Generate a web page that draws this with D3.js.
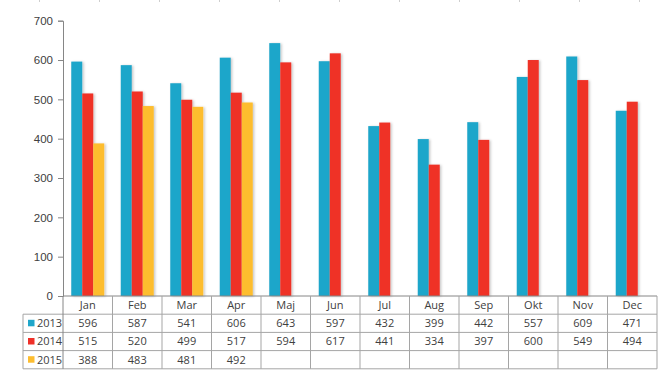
<!DOCTYPE html>
<html>
<head>
<meta charset="utf-8">
<script src="https://cdn.jsdelivr.net/npm/d3@7"></script>
<style>
  body { margin: 0; background: #fff; }
  svg { display: block; font-family: "Open Sans", "Noto Sans", sans-serif; }
</style>
</head>
<body>
<script>
// chart data
var months = ["Jan", "Feb", "Mar", "Apr", "Maj", "Jun", "Jul", "Aug", "Sep", "Okt", "Nov", "Dec"];
var years = ["2013", "2014", "2015"];
var v2013 = [596, 587, 541, 606, 643, 597, 432, 399, 442, 557, 609, 471];
var v2014 = [515, 520, 499, 517, 594, 617, 441, 334, 397, 600, 549, 494];
var v2015 = [388, 483, 481, 492, null, null, null, null, null, null, null, null];
var yTicks = [0, 100, 200, 300, 400, 500, 600, 700];
var colors = ["#1fa6ca", "#ef3028", "#fdbd2f"];

var values = [v2013, v2014, v2015];

var width = 669, height = 376;
var plotLeft = 63, plotRight = 657, plotTop = 20.7, plotBottom = 296;
var rowH = 18.2;

var svg = d3.select("body").append("svg")
  .attr("width", width)
  .attr("height", height);

var defs = svg.append("defs");
var shadow = defs.append("filter").attr("id", "shadow")
  .attr("x", "-20%").attr("y", "-5%").attr("width", "160%").attr("height", "110%");
shadow.append("feDropShadow")
  .attr("dx", 1.5).attr("dy", 0.5)
  .attr("stdDeviation", 1)
  .attr("flood-color", "#000")
  .attr("flood-opacity", 0.22);

// faint marks along the top edge
svg.selectAll(".topmark")
  .data(d3.range(11))
  .enter().append("line")
  .attr("x1", function (d) { return 39.5 + d * 60; })
  .attr("x2", function (d) { return 39.5 + d * 60; })
  .attr("y1", 0).attr("y2", 2)
  .attr("stroke", "#cfcfcf");

var x0 = d3.scaleBand().domain(months).range([plotLeft, plotRight]).padding(0);
var groupW = x0.bandwidth() * 0.667;
var x1 = d3.scaleBand().domain(years)
  .range([(x0.bandwidth() - groupW) / 2, (x0.bandwidth() + groupW) / 2]);
var y = d3.scaleLinear().domain([0, 700]).range([plotBottom, plotTop]);

// bars
var groups = svg.selectAll(".month")
  .data(months)
  .enter().append("g")
  .attr("transform", function (d) { return "translate(" + x0(d) + ",0)"; });

groups.selectAll("rect")
  .data(function (m, i) {
    return years.map(function (yr, k) { return { year: yr, k: k, v: values[k][i] }; })
      .filter(function (d) { return d.v != null; });
  })
  .enter().append("rect")
  .attr("x", function (d) { return x1(d.year); })
  .attr("width", x1.bandwidth())
  .attr("y", function (d) { return y(d.v); })
  .attr("height", function (d) { return plotBottom - y(d.v); })
  .attr("fill", function (d) { return colors[d.k]; })
  .attr("filter", "url(#shadow)");

// y axis
var yAxis = svg.append("g")
  .attr("transform", "translate(" + plotLeft + ",0)")
  .call(d3.axisLeft(y).tickValues(yTicks).tickSize(5).tickPadding(5));
yAxis.select(".domain").attr("stroke", "#868686");
yAxis.selectAll(".tick line").attr("stroke", "#868686");
yAxis.selectAll(".tick text")
  .attr("fill", "#404040")
  .style("font-size", "11.5px");

// data table
var tbl = svg.append("g");
var lineColor = "#a5a5a5";
var tableLeft = 23;
var tableBottom = plotBottom + rowH * 4;

// horizontal lines
tbl.append("line")
  .attr("x1", plotLeft).attr("x2", plotRight).attr("y1", plotBottom).attr("y2", plotBottom)
  .attr("stroke", "#868686");
d3.range(1, 5).forEach(function (r) {
  tbl.append("line")
    .attr("x1", tableLeft).attr("x2", plotRight)
    .attr("y1", plotBottom + r * rowH).attr("y2", plotBottom + r * rowH)
    .attr("stroke", lineColor);
});
// vertical lines
tbl.append("line")
  .attr("x1", tableLeft).attr("x2", tableLeft)
  .attr("y1", plotBottom + rowH).attr("y2", tableBottom)
  .attr("stroke", lineColor);
months.concat(["end"]).forEach(function (m, i) {
  var xx = plotLeft + i * x0.bandwidth();
  tbl.append("line")
    .attr("x1", xx).attr("x2", xx)
    .attr("y1", plotBottom).attr("y2", tableBottom)
    .attr("stroke", i === 0 ? "#868686" : lineColor);
});

// header labels
tbl.selectAll(".hdr")
  .data(months)
  .enter().append("text")
  .attr("x", function (d) { return x0(d) + x0.bandwidth() / 2; })
  .attr("y", plotBottom + rowH / 2)
  .attr("dy", "0.35em")
  .attr("text-anchor", "middle")
  .attr("fill", "#404040")
  .style("font-size", "11px")
  .text(function (d) { return d; });

// legend cells and values
years.forEach(function (yr, k) {
  var cy = plotBottom + (k + 1) * rowH + rowH / 2;
  tbl.append("rect")
    .attr("x", 28).attr("y", cy - 3.5)
    .attr("width", 6.5).attr("height", 6.5)
    .attr("fill", colors[k]);
  tbl.append("text")
    .attr("x", 37).attr("y", cy).attr("dy", "0.35em")
    .attr("fill", "#404040")
    .style("font-size", "11px")
    .text(yr);
  tbl.selectAll(".v" + yr)
    .data(values[k])
    .enter().append("text")
    .attr("x", function (d, i) { return x0(months[i]) + x0.bandwidth() / 2; })
    .attr("y", cy).attr("dy", "0.35em")
    .attr("text-anchor", "middle")
    .attr("fill", "#404040")
    .style("font-size", "11px")
    .text(function (d) { return d == null ? "" : d; });
});
</script>
</body>
</html>
